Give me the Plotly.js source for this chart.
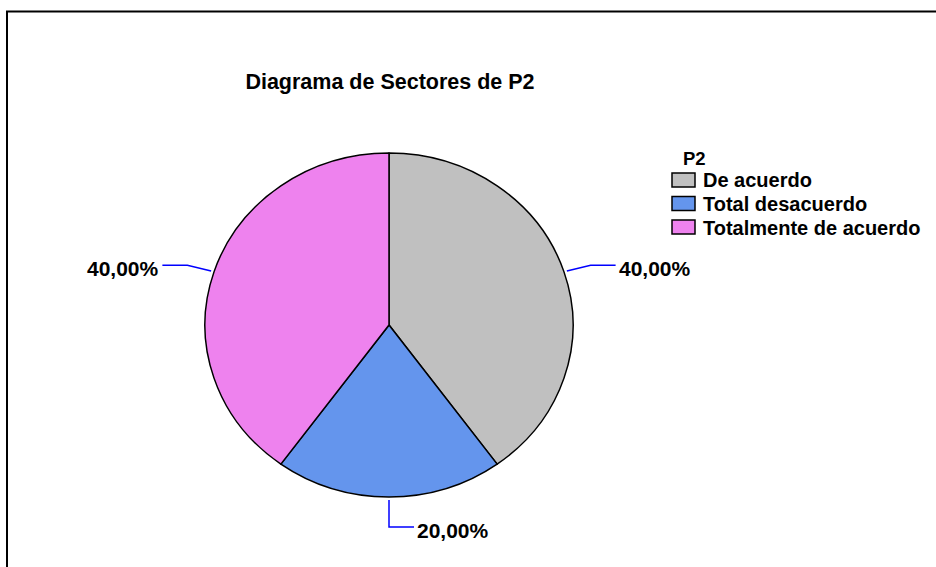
<!DOCTYPE html>
<html><head><meta charset="utf-8">
<script src="https://cdn.plot.ly/plotly-3.0.1.min.js"></script>
<style>html,body{margin:0;padding:0;background:#fff}#chart{width:936px;height:567px}</style>
</head><body><div id="chart"></div>
<script>
const categories = ['De acuerdo', 'Total desacuerdo', 'Totalmente de acuerdo'];
const percentages = [40, 20, 40];
const sliceColors = ['#c0c0c0', '#6495ed', '#ee82ee'];
const chartTitle = 'Diagrama de Sectores de P2';
const legendTitle = 'P2';

const W = 936, H = 567, CX = 389, CY = 325, RX = 184, RY = 172;
const px = x => x / W, py = y => 1 - y / H;
const FONT = 'Liberation Sans, Arial, sans-serif';

const total = percentages.reduce((a, b) => a + b, 0);
const shapes = [{
  type: 'rect', xref: 'paper', yref: 'paper',
  x0: px(7), y0: py(11.5), x1: px(W + 20), y1: py(H + 20),
  line: {color: '#000', width: 2}, fillcolor: 'rgba(0,0,0,0)'
}];
const annotations = [{
  xref: 'paper', yref: 'paper', x: px(681), y: py(158), xanchor: 'left', yanchor: 'middle',
  showarrow: false, text: legendTitle, font: {family: FONT, size: 18.5, color: '#000', weight: 'bold'}
}];

// legend (drawn from categories / colours)
const LEG_Y0 = 180, LEG_DY = 23.5;
categories.forEach((name, i) => {
  const yc = LEG_Y0 + i * LEG_DY;
  shapes.push({
    type: 'rect', xref: 'paper', yref: 'paper',
    x0: px(672), x1: px(695), y0: py(yc - 7), y1: py(yc + 7),
    fillcolor: sliceColors[i], line: {color: '#000', width: 1.5}
  });
  annotations.push({
    xref: 'paper', yref: 'paper', x: px(701), y: py(yc + 0.5), xanchor: 'left', yanchor: 'middle',
    showarrow: false, text: name, font: {family: FONT, size: 20, color: '#000', weight: 'bold'}
  });
});

let cum = 0;
percentages.forEach((v, i) => {
  const mid = (cum + v / 2) / total * 2 * Math.PI; cum += v;
  const s = Math.sin(mid), c = Math.cos(mid);
  const ex = CX + RX * s, ey = CY - RY * c;
  const sx = ex + 3 * s, sy = ey - 3 * c;
  const mx = ex + 28 * s, my = ey - 28 * c + 2;
  const dir = s < -0.01 ? -1 : 1;
  const hx = mx + dir * 25;
  shapes.push({
    type: 'path', xref: 'paper', yref: 'paper',
    path: `M${px(sx)},${py(sy)} L${px(mx)},${py(my)} L${px(hx)},${py(my)}`,
    line: {color: '#0000ff', width: 1.5}
  });
  const label = (v / total * 100).toFixed(2).replace('.', ',') + '%';
  annotations.push({
    xref: 'paper', yref: 'paper', x: px(hx + 1 * dir), y: py(my + 3),
    xanchor: dir > 0 ? 'left' : 'right', yanchor: 'middle', showarrow: false,
    text: label, font: {family: FONT, size: 21, color: '#000', weight: 'bold'}
  });
});

const data = [{
  type: 'pie',
  labels: categories,
  values: percentages,
  sort: false,
  direction: 'clockwise',
  rotation: 0,
  textinfo: 'none',
  hoverinfo: 'skip',
  showlegend: false,
  marker: {colors: sliceColors, line: {color: '#000', width: 1.5}},
  domain: {x: [px(CX - RX), px(CX + RX)], y: [py(CY + RX), py(CY - RX)]}
}];

const layout = {
  width: W, height: H,
  margin: {l: 0, r: 0, t: 0, b: 0},
  paper_bgcolor: '#fff',
  title: {
    text: chartTitle, x: px(390), xanchor: 'center', xref: 'paper',
    y: py(81.5), yanchor: 'middle', yref: 'paper',
    font: {family: FONT, size: 21.5, color: '#000', weight: 'bold'}
  },
  showlegend: false,
  shapes: shapes,
  annotations: annotations
};

Plotly.newPlot('chart', data, layout, {staticPlot: true, displayModeBar: false}).then(gd => {
  const k = RY / RX;
  gd.querySelectorAll('.pielayer').forEach(el =>
    el.setAttribute('transform', `matrix(1,0,0,${k},0,${CY * (1 - k)})`));
});
</script>
</body></html>
